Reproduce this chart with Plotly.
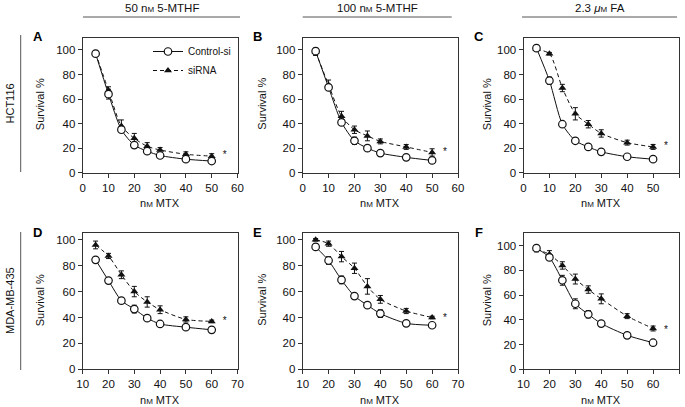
import plotly.graph_objects as go

W, H = 685, 407

# ---------------- data ----------------
x_top = [5, 10, 15, 20, 25, 30, 40, 50]
x_bot = [15, 20, 25, 30, 35, 40, 50, 60]

A_ctrl = [97, 64, 35, 22.5, 17.5, 14, 11, 9.5]
A_ctrl_err = [2, 4, 2, 2, 2, 1, 1, 1.5]
A_si = [97.5, 67, 38, 28, 21.5, 18.5, 15, 13.5]
A_si_err = [2, 3, 5, 4, 3, 2, 2, 2]

B_ctrl = [99, 69.5, 41, 26, 20, 16, 12.5, 10]
B_ctrl_err = [2, 2, 2, 3, 2, 2, 1, 2]
B_si = [98.5, 71.5, 46, 35, 30, 25.5, 21, 16.5]
B_si_err = [3, 4, 4, 3, 4, 2, 2, 3]

C_ctrl = [101.5, 75, 39.5, 26, 21, 17, 13, 11]
C_ctrl_err = [1, 3, 2, 2, 2, 1, 1, 1]
C_si = [100.5, 97, 69, 48, 39.5, 32, 24.5, 21]
C_si_err = [1, 1, 3, 5, 3, 3, 2, 2]

D_ctrl = [84.5, 68.5, 53, 46.5, 39.5, 35, 32.5, 30.5]
D_ctrl_err = [1, 2, 1, 3, 1, 2, 1, 1]
D_si = [96, 87.5, 73, 60, 52, 46, 38.5, 37]
D_si_err = [3, 2, 3, 4, 4, 3, 2, 1]

E_ctrl = [94.5, 84, 69, 56.5, 49.5, 43, 35.5, 34]
E_ctrl_err = [2, 3, 3, 1, 2, 3, 2, 1]
E_si = [100, 97, 87, 78, 64, 54, 45, 40]
E_si_err = [1, 2, 4, 4, 6, 3, 2, 1]

F_ctrl = [98, 90.5, 72, 53, 44.5, 37, 27.5, 21.5]
F_ctrl_err = [2, 2, 4, 4, 3, 2, 2, 2]
F_si = [97, 93, 84, 73, 64.5, 57, 43, 33]
F_si_err = [2, 3, 3, 4, 3, 4, 2, 2]

star_x = {"A": 55, "B": 55, "C": 55, "D": 65, "E": 65, "F": 65}
star_y = {"A": 14, "B": 16.5, "C": 21, "D": 37, "E": 39, "F": 31}

x_ticks_top = [0, 10, 20, 30, 40, 50, 60]
x_ticks_bot = [10, 20, 30, 40, 50, 60, 70]
y_ticks = [0, 20, 40, 60, 80, 100]

col_headers = ["50 n<span style='font-size:8px'>M</span> 5-MTHF",
               "100 n<span style='font-size:8px'>M</span> 5-MTHF",
               "2.3 <i>μ</i><span style='font-size:8px'>M</span> FA"]
row_labels = ["HCT116", "MDA-MB-435"]
x_title = "n<span style='font-size:8px'>M</span> MTX"
y_title = "Survival %"

# ---------------- layout geometry ----------------
FONT = "Liberation Sans, Arial, sans-serif"
col_px = [(82.7, 237.5), (302.7, 458.0), (523.5, 679.0)]
row_px = [(37.7, 172.7), (233.3, 369.3)]
ytitle_px = [40, 262.5, 487]
xtitle_py = [203, 400]

def px2x(p):
    return p / W

def px2y(p):
    return 1 - p / H

panels = [
    ("A", 0, 0, x_top, A_ctrl, A_ctrl_err, A_si, A_si_err, [0, 60], [0, 110], x_ticks_top),
    ("B", 0, 1, x_top, B_ctrl, B_ctrl_err, B_si, B_si_err, [0, 60], [0, 110], x_ticks_top),
    ("C", 0, 2, x_top, C_ctrl, C_ctrl_err, C_si, C_si_err, [0, 60], [0, 110], x_ticks_top),
    ("D", 1, 0, x_bot, D_ctrl, D_ctrl_err, D_si, D_si_err, [10, 70], [0, 105], x_ticks_bot),
    ("E", 1, 1, x_bot, E_ctrl, E_ctrl_err, E_si, E_si_err, [10, 70], [0, 105], x_ticks_bot),
    ("F", 1, 2, x_bot, F_ctrl, F_ctrl_err, F_si, F_si_err, [10, 70], [0, 110], x_ticks_bot),
]

fig = go.Figure()
layout_axes = {}
annotations = []
shapes = []

for i, (lab, r, c, xs, yc, ec, ys, es, xr, yr, xt) in enumerate(panels):
    n = i + 1
    xa = "x" if n == 1 else f"x{n}"
    ya = "y" if n == 1 else f"y{n}"
    xkey = "xaxis" if n == 1 else f"xaxis{n}"
    ykey = "yaxis" if n == 1 else f"yaxis{n}"
    x0, x1 = col_px[c]
    y0, y1 = row_px[r]
    axis_common = dict(showline=True, linecolor="#333", linewidth=1, mirror=True,
                       ticks="outside", ticklen=4, tickcolor="#333", tickwidth=1,
                       showgrid=False, zeroline=False, automargin=False,
                       tickfont=dict(family=FONT, size=11.5, color="#111"))
    layout_axes[xkey] = dict(domain=[px2x(x0), px2x(x1)], range=xr, tickvals=xt,
                             anchor=ya, **axis_common)
    layout_axes[ykey] = dict(domain=[px2y(y1), px2y(y0)], range=yr, tickvals=y_ticks,
                             anchor=xa, **axis_common)

    fig.add_trace(go.Scatter(
        x=xs, y=ys, xaxis=xa, yaxis=ya, mode="lines+markers", name="siRNA",
        showlegend=(n == 1), legendrank=2,
        line=dict(color="#111", width=1, dash="4px,3px", shape="spline", smoothing=0.7),
        marker=dict(symbol="triangle-up", size=7, color="#111"),
        error_y=dict(type="data", array=es, visible=True, color="#111",
                     thickness=1, width=2.5)))
    fig.add_trace(go.Scatter(
        x=xs, y=yc, xaxis=xa, yaxis=ya, mode="lines+markers", name="Control-si",
        showlegend=(n == 1), legendrank=1,
        line=dict(color="#111", width=1, shape="spline", smoothing=0.7),
        marker=dict(symbol="circle", size=7.5, color="white",
                    line=dict(color="#111", width=1.2)),
        error_y=dict(type="data", array=ec, visible=True, color="#111",
                     thickness=1, width=2.5)))
    # significance star
    fig.add_trace(go.Scatter(
        x=[star_x[lab]], y=[star_y[lab]], xaxis=xa, yaxis=ya, mode="text", text=["*"],
        textposition="middle center", showlegend=False, hoverinfo="skip",
        textfont=dict(family=FONT, size=10, color="#111")))

    # axis titles
    annotations.append(dict(x=px2x(ytitle_px[c]), y=px2y((y0 + y1) / 2 - 1),
                            xref="paper", yref="paper", text=y_title, showarrow=False,
                            textangle=-90, xanchor="center", yanchor="middle",
                            font=dict(family=FONT, size=11, color="#111")))
    annotations.append(dict(x=px2x((x0 + x1) / 2), y=px2y(xtitle_py[r]),
                            xref="paper", yref="paper", text=x_title, showarrow=False,
                            xanchor="center", yanchor="middle",
                            font=dict(family=FONT, size=11, color="#111")))
    # panel letter
    annotations.append(dict(x=px2x(x0 - 45), y=px2y(y0 - 1), xref="paper", yref="paper",
                            text=f"<b>{lab}</b>", showarrow=False,
                            xanchor="center", yanchor="middle",
                            font=dict(family=FONT, size=13, color="#000")))

# column headers and lines
header_lines = [(83, 240), (302.7, 451.7), (522, 677)]
for (hx0, hx1), txt in zip(header_lines, col_headers):
    shapes.append(dict(type="line", xref="paper", yref="paper",
                       x0=px2x(hx0), x1=px2x(hx1), y0=px2y(17), y1=px2y(17),
                       line=dict(color="#555", width=1)))
    annotations.append(dict(x=px2x((hx0 + hx1) / 2), y=px2y(8), xref="paper", yref="paper",
                            text=txt, showarrow=False, xanchor="center", yanchor="middle",
                            font=dict(family=FONT, size=11.5, color="#111")))

# row labels and lines
row_lines = [(35, 172), (232, 370)]
for (ry0, ry1), txt in zip(row_lines, row_labels):
    shapes.append(dict(type="line", xref="paper", yref="paper",
                       x0=px2x(20.7), x1=px2x(20.7), y0=px2y(ry0), y1=px2y(ry1),
                       line=dict(color="#555", width=1)))
    annotations.append(dict(x=px2x(10), y=px2y((ry0 + ry1) / 2), xref="paper", yref="paper",
                            text=txt, showarrow=False, textangle=-90,
                            xanchor="center", yanchor="middle",
                            font=dict(family=FONT, size=11, color="#111")))

fig.update_layout(
    width=W, height=H,
    margin=dict(l=0, r=0, t=0, b=0, autoexpand=False),
    paper_bgcolor="white", plot_bgcolor="white",
    font=dict(family=FONT, size=11, color="#111"),
    showlegend=True,
    legend=dict(x=px2x(148), y=px2y(37), xanchor="left", yanchor="top",
                bgcolor="rgba(0,0,0,0)", borderwidth=0,
                font=dict(family=FONT, size=10, color="#111"),
                itemwidth=30, tracegroupgap=0, traceorder="normal"),
    annotations=annotations,
    shapes=shapes,
    **layout_axes,
)

fig.write_html(
    "out.html",
    config={"displayModeBar": False},
    post_script="document.body.style.margin='0';document.body.style.overflow='hidden';",
)
